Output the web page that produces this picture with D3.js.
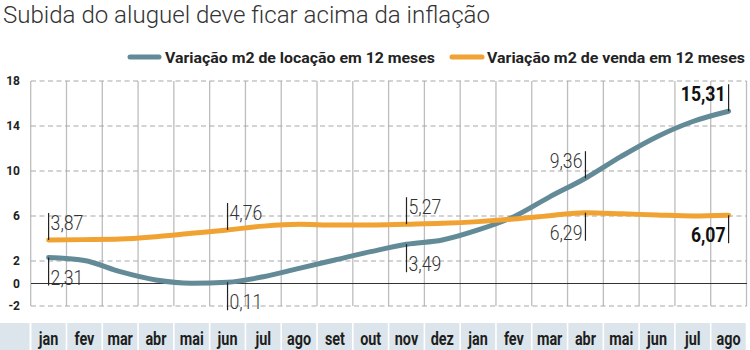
<!DOCTYPE html>
<html><head><meta charset="utf-8">
<script src="https://cdn.jsdelivr.net/npm/d3@7"></script>
<style>
html,body{margin:0;padding:0;background:#fff;}
svg{display:block;}
text{font-family:Roboto,"Liberation Sans",sans-serif;}
</style></head>
<body>
<svg id="chart" width="750" height="350"></svg>
<script>
const title = "Subida do aluguel deve ficar acima da inflação";
const months = ["jan","fev","mar","abr","mai","jun","jul","ago","set","out","nov","dez","jan","fev","mar","abr","mai","jun","jul","ago"];
const locacao = [2.31, 2.05, 1.05, 0.31, 0.03, 0.11, 0.6, 1.35, 2.09, 2.83, 3.49, 3.87, 4.76, 5.94, 7.7, 9.36, 11.3, 13.05, 14.4, 15.31];
const venda = [3.87, 3.9, 3.95, 4.16, 4.46, 4.76, 5.1, 5.26, 5.2, 5.2, 5.27, 5.35, 5.5, 5.73, 6.03, 6.29, 6.2, 6.09, 6.0, 6.07];
const yTicks = [18, 14, 10, 6, 2, 0, -2];
const seriesNames = ["Variação m2 de locação em 12 meses", "Variação m2 de venda em 12 meses"];
const annotations = [
  {i:0, s:1, text:"3,87", dir:"up", anchor:"start", bold:false},
  {i:0, s:0, text:"2,31", dir:"down", anchor:"start", bold:false},
  {i:5, s:1, text:"4,76", dir:"up", anchor:"start", bold:false},
  {i:5, s:0, text:"0,11", dir:"down", anchor:"start", bold:false},
  {i:10, s:1, text:"5,27", dir:"up", anchor:"start", bold:false},
  {i:10, s:0, text:"3,49", dir:"down", anchor:"start", bold:false},
  {i:15, s:0, text:"9,36", dir:"up", anchor:"end", bold:false},
  {i:15, s:1, text:"6,29", dir:"down", anchor:"end", bold:false},
  {i:19, s:0, text:"15,31", dir:"up", anchor:"end", bold:true},
  {i:19, s:1, text:"6,07", dir:"down", anchor:"end", bold:true}
];

const colors = ["#638b97", "#f0a232"];
const series = [locacao, venda];
const svg = d3.select("#chart");

// condense a text node horizontally, keeping it as real text
function condense(sel, f) {
  sel.each(function() {
    const w = this.getComputedTextLength();
    d3.select(this).attr("textLength", w * f).attr("lengthAdjust", "spacingAndGlyphs");
  });
}

const x = d3.scaleBand().domain(d3.range(months.length)).range([30.7, 746.5]).paddingInner(0).paddingOuter(0);
const xc = i => x(i) + x.bandwidth()/2;
const y = d3.scaleLinear().domain([-2, 18]).range([306, 81]);

// title
svg.append("text").attr("x", 3).attr("y", 23).attr("font-size", 23).attr("font-weight", 300).attr("fill", "#333")
  .attr("textLength", 487).attr("lengthAdjust", "spacingAndGlyphs").text(title);

// legend
const leg = [{x1:130, x2:159, tx:165, tl:270}, {x1:452, x2:482, tx:487, tl:258}];
leg.forEach((l, k) => {
  svg.append("line").attr("x1", l.x1).attr("x2", l.x2).attr("y1", 57).attr("y2", 57)
    .attr("stroke", colors[k]).attr("stroke-width", 5).attr("stroke-linecap", "round");
  svg.append("text").attr("x", l.tx).attr("y", 63).attr("font-size", 15).attr("font-weight", "bold")
    .attr("fill", "#222").attr("textLength", l.tl).attr("lengthAdjust", "spacingAndGlyphs").text(seriesNames[k]);
});

// vertical gridlines
const bounds = d3.range(months.length + 1).map(i => i < months.length ? x(i) : x(months.length-1) + x.bandwidth());
svg.append("g").selectAll("line").data(bounds).join("line")
  .attr("x1", d => d).attr("x2", d => d).attr("y1", y(18)).attr("y2", y(-2))
  .attr("stroke", "#bdbdbd").attr("stroke-width", 1.3);

// horizontal gridlines
svg.append("g").selectAll("line").data(yTicks.filter(t => t !== 0)).join("line")
  .attr("x1", 31).attr("x2", 746.5).attr("y1", d => y(d)).attr("y2", d => y(d))
  .attr("stroke", "#a8a8a8").attr("stroke-width", 1.2).attr("stroke-dasharray", "5,3.5");
svg.append("line").attr("x1", 31).attr("x2", 747).attr("y1", y(0)).attr("y2", y(0))
  .attr("stroke", "#333").attr("stroke-width", 1.2);

// y tick labels
svg.append("g").selectAll("text").data(yTicks).join("text")
  .attr("x", 20).attr("y", d => y(d) + 4).attr("text-anchor", "end")
  .attr("font-size", 12).attr("font-weight", "bold").attr("fill", "#222")
  .text(d => d);

// month band
svg.append("rect").attr("x", 0).attr("y", 323).attr("width", 29.5).attr("height", 27).attr("fill", "#dce5eb");
svg.append("g").selectAll("rect").data(months).join("rect")
  .attr("x", (d, i) => x(i) + 0.8).attr("y", 323).attr("width", x.bandwidth() - 1.6).attr("height", 27)
  .attr("fill", "#dce5eb");
svg.append("g").selectAll("text").data(months).join("text")
  .attr("x", (d, i) => xc(i)).attr("y", 345).attr("text-anchor", "middle")
  .attr("font-size", 18).attr("font-weight", "bold").attr("fill", "#1e1e1e").text(d => d)
  .call(condense, 0.8);

// lines
const line = d3.line().x((d, i) => xc(i)).y(d => y(d)).curve(d3.curveMonotoneX);
series.forEach((s, k) => {
  svg.append("path").attr("d", line(s)).attr("fill", "none").attr("stroke", colors[k])
    .attr("stroke-width", 5).attr("stroke-linecap", "round").attr("stroke-linejoin", "round");
});

// annotations
const ag = svg.append("g");
annotations.forEach(a => {
  const cx = xc(a.i), cy = y(series[a.s][a.i]);
  const up = a.dir === "up";
  ag.append("line").attr("x1", cx).attr("x2", cx)
    .attr("y1", up ? cy - 27 : cy).attr("y2", up ? cy : cy + 28)
    .attr("stroke", "#222").attr("stroke-width", 1.2);
  ag.append("text").attr("x", a.anchor === "start" ? cx + 2 : cx - 3)
    .attr("y", up ? cy - 10 : cy + 27).attr("text-anchor", a.anchor)
    .attr("font-size", 21).attr("font-weight", a.bold ? "bold" : 300)
    .attr("fill", a.bold ? "#111" : "#333").text(a.text)
    .call(condense, 0.84);
});
</script>
</body></html>
